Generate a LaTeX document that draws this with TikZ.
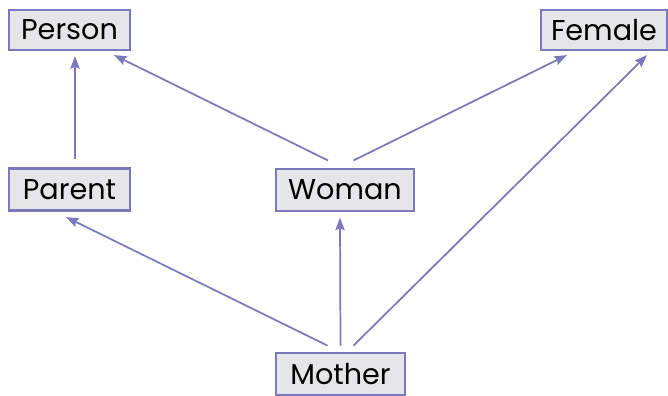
\documentclass[tikz,border=0pt]{standalone}
\usepackage{fontspec}
\setmainfont{Poppins}
\usetikzlibrary{arrows.meta,calc}
\definecolor{edgec}{HTML}{7B78BC}
\definecolor{boxfill}{HTML}{E6E6E9}
\tikzset{
  cls/.style={draw=edgec, fill=boxfill, line width=1.6pt, inner sep=0pt, minimum height=30pt, font=\fontsize{21.5}{24}\selectfont, text=black},
  isa/.style={draw=edgec, line width=1.3pt, -{Stealth[length=9.5pt,width=7pt,inset=1.5pt]}}
}
\begin{document}
\begin{tikzpicture}[x=0.75pt,y=-0.75pt]
\useasboundingbox (0,0) rectangle (668,396);
\node[cls, minimum width=90.75pt] (person) at (69.5,30) {Person};
\node[cls, minimum width=94.5pt] (female) at (604,30) {Female};
\node[cls, minimum width=90.75pt, minimum height=31.5pt] (parent) at (69.5,189.5) {Parent};
\node[cls, minimum width=104pt, minimum height=31.5pt] (woman) at (345,190) {Woman};
\node[cls, minimum width=96.75pt, minimum height=32pt] (mother) at (340.5,374) {Mother};
\draw[isa] ($(parent.north)+(5.5,-8)$) -- ($(person.south)+(5.5,5)$);
\draw[isa] ($(woman.north)+(-17,-7.5)$) -- ($(person.south)+(44.5,4)$);
\draw[isa] ($(woman.north)+(8.5,-7.5)$) -- ($(female.south)+(-37,4)$);
\draw[isa] ($(mother.north)+(-13,-6)$) -- ($(parent.south)+(-3.5,5.5)$);
\draw[isa] ($(mother.north)+(0,-6)$) -- ($(woman.south)+(-5,5.5)$);
\draw[isa] ($(mother.north)+(13,-6)$) -- ($(female.south)+(43,4)$);
\end{tikzpicture}
\end{document}
